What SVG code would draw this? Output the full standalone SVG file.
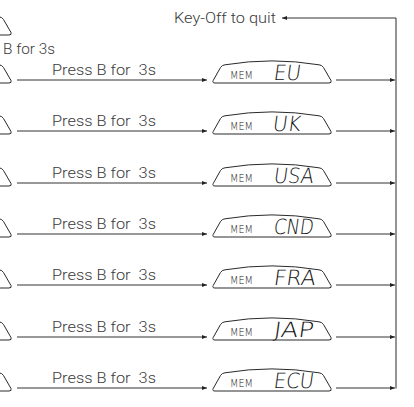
<svg xmlns="http://www.w3.org/2000/svg" width="414" height="407" viewBox="0 0 414 407">
<style>
.lbl{font-family:Roboto,"Liberation Sans",Arial,sans-serif;font-size:15px;fill:#3a3a3a;font-weight:300;white-space:pre}
.disp{fill:#fff;stroke:#2a2a2a;stroke-width:1}
.mem{font-family:"DejaVu Sans","Liberation Sans",sans-serif;font-size:11px;fill:#222;font-weight:300}
.seg{font-family:"DejaVu Sans","Liberation Sans",sans-serif;font-size:21px;fill:#111;font-weight:200}
.ln{stroke:#333;stroke-width:1;fill:none}
.vl{stroke:#7a7a7a;stroke-width:1.6;fill:none}
</style>
<defs>
<marker id="ah" markerWidth="5" markerHeight="4" refX="5" refY="2" orient="auto" markerUnits="userSpaceOnUse">
<path d="M0,0 L5,2 L0,4 z" fill="#222"/>
</marker>
<path id="shape" d="M215,3 Q212,3 213.2,0.5 L220.5,-12.5 Q222,-15 225,-15.2 Q272,-23 319,-15.2 Q322,-15 323.5,-12.5 L331,0.5 Q332,3 329,3 Z"/>
</defs>

<g id="connectors">
<path class="vl" d="M396,18 V388.5"/>
<path class="ln" d="M396,18 H282" marker-end="url(#ah)"/>
<path class="ln" d="M17,80 H207" marker-end="url(#ah)"/>
<path class="ln" d="M336,80 H395" marker-end="url(#ah)"/>
<path class="ln" d="M17,131 H207" marker-end="url(#ah)"/>
<path class="ln" d="M336,131 H395" marker-end="url(#ah)"/>
<path class="ln" d="M17,183 H207" marker-end="url(#ah)"/>
<path class="ln" d="M336,183 H395" marker-end="url(#ah)"/>
<path class="ln" d="M17,234 H207" marker-end="url(#ah)"/>
<path class="ln" d="M336,234 H395" marker-end="url(#ah)"/>
<path class="ln" d="M17,285 H207" marker-end="url(#ah)"/>
<path class="ln" d="M336,285 H395" marker-end="url(#ah)"/>
<path class="ln" d="M17,337 H207" marker-end="url(#ah)"/>
<path class="ln" d="M336,337 H395" marker-end="url(#ah)"/>
<path class="ln" d="M17,388 H207" marker-end="url(#ah)"/>
<path class="ln" d="M336,388 H395" marker-end="url(#ah)"/>
</g>

<g id="labels">
<text class="lbl" x="174" y="23" textLength="102" lengthAdjust="spacingAndGlyphs">Key-Off to quit</text>
<text class="lbl" x="3" y="54" textLength="52" lengthAdjust="spacingAndGlyphs">B for 3s</text>
<text class="lbl" x="52" y="75" textLength="104" lengthAdjust="spacingAndGlyphs" xml:space="preserve">Press B for  3s</text>
<text class="lbl" x="52" y="126" textLength="104" lengthAdjust="spacingAndGlyphs" xml:space="preserve">Press B for  3s</text>
<text class="lbl" x="52" y="178" textLength="104" lengthAdjust="spacingAndGlyphs" xml:space="preserve">Press B for  3s</text>
<text class="lbl" x="52" y="229" textLength="104" lengthAdjust="spacingAndGlyphs" xml:space="preserve">Press B for  3s</text>
<text class="lbl" x="52" y="280" textLength="104" lengthAdjust="spacingAndGlyphs" xml:space="preserve">Press B for  3s</text>
<text class="lbl" x="52" y="332" textLength="104" lengthAdjust="spacingAndGlyphs" xml:space="preserve">Press B for  3s</text>
<text class="lbl" x="52" y="383" textLength="104" lengthAdjust="spacingAndGlyphs" xml:space="preserve">Press B for  3s</text>
</g>

<g id="left-partials">
<use href="#shape" class="disp" transform="translate(-320,32)"/>
<use href="#shape" class="disp" transform="translate(-320,80)"/>
<use href="#shape" class="disp" transform="translate(-320,131)"/>
<use href="#shape" class="disp" transform="translate(-320,183)"/>
<use href="#shape" class="disp" transform="translate(-320,234)"/>
<use href="#shape" class="disp" transform="translate(-320,285)"/>
<use href="#shape" class="disp" transform="translate(-320,337)"/>
<use href="#shape" class="disp" transform="translate(-320,388)"/>
</g>

<g id="disp-eu" transform="translate(0,80)">
<use href="#shape" class="disp"/>
<text class="mem" x="230" y="-1" textLength="23" lengthAdjust="spacingAndGlyphs">MEM</text>
<text class="seg" x="273" y="0" transform="skewX(-8)" textLength="27" lengthAdjust="spacingAndGlyphs">EU</text>
</g>
<g id="disp-uk" transform="translate(0,131)">
<use href="#shape" class="disp"/>
<text class="mem" x="230" y="-1" textLength="23" lengthAdjust="spacingAndGlyphs">MEM</text>
<text class="seg" x="272" y="0" transform="skewX(-8)" textLength="28" lengthAdjust="spacingAndGlyphs">UK</text>
</g>
<g id="disp-usa" transform="translate(0,183)">
<use href="#shape" class="disp"/>
<text class="mem" x="230" y="-1" textLength="23" lengthAdjust="spacingAndGlyphs">MEM</text>
<text class="seg" x="273" y="0" transform="skewX(-8)" textLength="40" lengthAdjust="spacingAndGlyphs">USA</text>
</g>
<g id="disp-cnd" transform="translate(0,234)">
<use href="#shape" class="disp"/>
<text class="mem" x="230" y="-1" textLength="23" lengthAdjust="spacingAndGlyphs">MEM</text>
<text class="seg" x="273" y="0" transform="skewX(-8)" textLength="40" lengthAdjust="spacingAndGlyphs">CND</text>
</g>
<g id="disp-fra" transform="translate(0,285)">
<use href="#shape" class="disp"/>
<text class="mem" x="230" y="-1" textLength="23" lengthAdjust="spacingAndGlyphs">MEM</text>
<text class="seg" x="273" y="0" transform="skewX(-8)" textLength="42" lengthAdjust="spacingAndGlyphs">FRA</text>
</g>
<g id="disp-jap" transform="translate(0,337)">
<use href="#shape" class="disp"/>
<text class="mem" x="230" y="-1" textLength="23" lengthAdjust="spacingAndGlyphs">MEM</text>
<text class="seg" x="273" y="0" transform="skewX(-8)" textLength="40" lengthAdjust="spacingAndGlyphs">JAP</text>
</g>
<g id="disp-ecu" transform="translate(0,388)">
<use href="#shape" class="disp"/>
<text class="mem" x="230" y="-1" textLength="23" lengthAdjust="spacingAndGlyphs">MEM</text>
<text class="seg" x="273" y="0" transform="skewX(-8)" textLength="40" lengthAdjust="spacingAndGlyphs">ECU</text>
</g>
</svg>
